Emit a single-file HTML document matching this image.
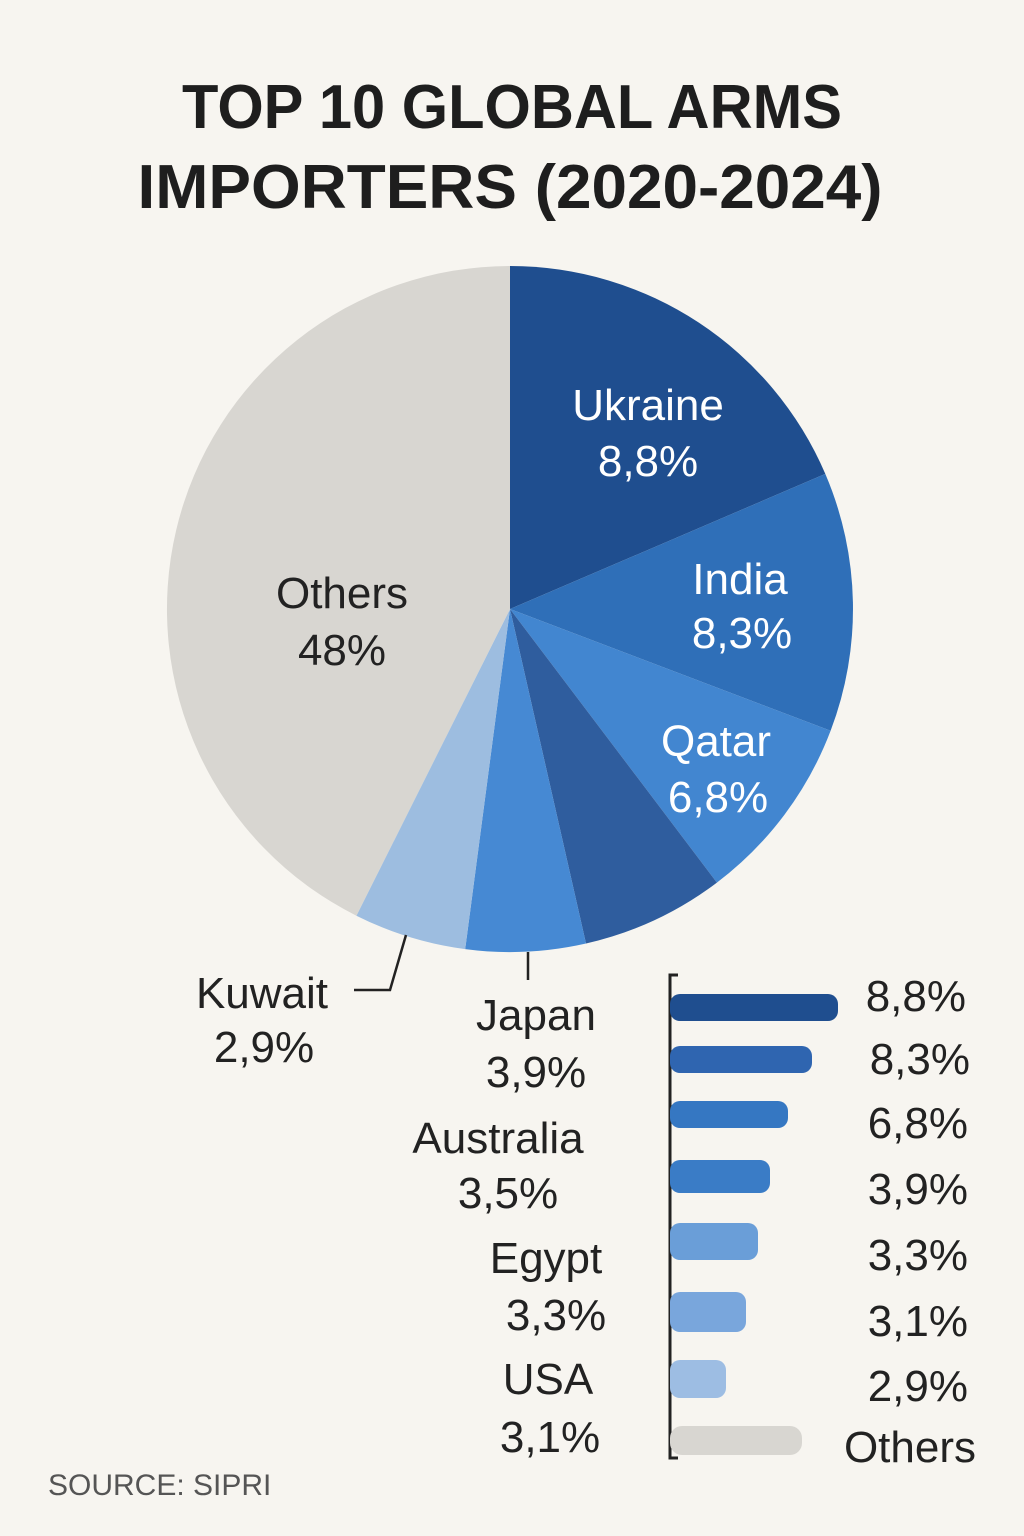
<!DOCTYPE html>
<html><head><meta charset="utf-8"><style>
body{margin:0;background:#f7f5f0;}
svg{display:block}
text{font-family:"Liberation Sans","DejaVu Sans",sans-serif;}
</style></head><body>
<svg width="1024" height="1536" viewBox="0 0 1024 1536">
<rect width="1024" height="1536" fill="#f7f5f0"/>
<g font-weight="bold" font-size="62" fill="#1e1e1e" text-anchor="middle">
<text x="512" y="128" textLength="660" lengthAdjust="spacingAndGlyphs">TOP 10 GLOBAL ARMS</text>
<text x="510" y="208" textLength="745" lengthAdjust="spacingAndGlyphs">IMPORTERS (2020-2024)</text>
</g>
<g>
<path d="M510,609 L510,266 A343,343 0 0 1 825.3,473.9 Z" fill="#1f4e8f"/>
<path d="M510,609 L825.3,473.9 A343,343 0 0 1 830.6,730.8 Z" fill="#2f6fb8"/>
<path d="M510,609 L830.6,730.8 A343,343 0 0 1 716.9,882.6 Z" fill="#4286d0"/>
<path d="M510,609 L716.9,882.6 A343,343 0 0 1 586,943.5 Z" fill="#2f5d9e"/>
<path d="M510,609 L586,943.5 A343,343 0 0 1 465.2,949.1 Z" fill="#4689d3"/>
<path d="M510,609 L465.2,949.1 A343,343 0 0 1 356.4,915.7 Z" fill="#9dbde0"/>
<path d="M510,609 L356.4,915.7 A343,343 0 0 1 510,266 Z" fill="#d8d6d1"/>
</g>
<g font-size="44" text-anchor="middle" fill="#fff">
<text x="648" y="420">Ukraine</text><text x="648" y="476">8,8%</text>
<text x="740" y="594">India</text><text x="742" y="648">8,3%</text>
<text x="716" y="756">Qatar</text><text x="718" y="812">6,8%</text>
</g>
<g font-size="44" text-anchor="middle" fill="#222">
<text x="342" y="608">Others</text><text x="342" y="665">48%</text>
<text x="262" y="1008">Kuwait</text><text x="264" y="1062">2,9%</text>
<text x="536" y="1030">Japan</text><text x="536" y="1087">3,9%</text>
<text x="498" y="1153">Australia</text><text x="508" y="1208">3,5%</text>
<text x="546" y="1273">Egypt</text><text x="556" y="1330">3,3%</text>
<text x="548" y="1394">USA</text><text x="550" y="1452">3,1%</text>
</g>
<path d="M354,990 H390 L406,935" stroke="#222" stroke-width="2.5" fill="none"/>
<path d="M528,952 V980" stroke="#222" stroke-width="2.5"/>
<path d="M678,975 H670 V1458 H678" stroke="#222" stroke-width="3" fill="none"/>
<g>
<rect x="670" y="994" width="168" height="27" rx="10" fill="#1f4e8f"/>
<rect x="670" y="1046" width="142" height="27" rx="10" fill="#2f65b0"/>
<rect x="670" y="1101" width="118" height="27" rx="10" fill="#3577c2"/>
<rect x="670" y="1160" width="100" height="33" rx="10" fill="#3a7cc6"/>
<rect x="670" y="1223" width="88" height="37" rx="10" fill="#6a9ed8"/>
<rect x="670" y="1292" width="76" height="40" rx="10" fill="#79a6dc"/>
<rect x="670" y="1360" width="56" height="38" rx="10" fill="#9dbde3"/>
<rect x="670" y="1426" width="132" height="29" rx="12" fill="#d8d6d1"/>
</g>
<g font-size="44" fill="#222" text-anchor="end">
<text x="966" y="1011">8,8%</text>
<text x="970" y="1074">8,3%</text>
<text x="968" y="1138">6,8%</text>
<text x="968" y="1204">3,9%</text>
<text x="968" y="1270">3,3%</text>
<text x="968" y="1336">3,1%</text>
<text x="968" y="1401">2,9%</text>
<text x="976" y="1462">Others</text>
</g>
<text x="48" y="1495" font-size="30" fill="#555">SOURCE: SIPRI</text>
</svg>
</body></html>
